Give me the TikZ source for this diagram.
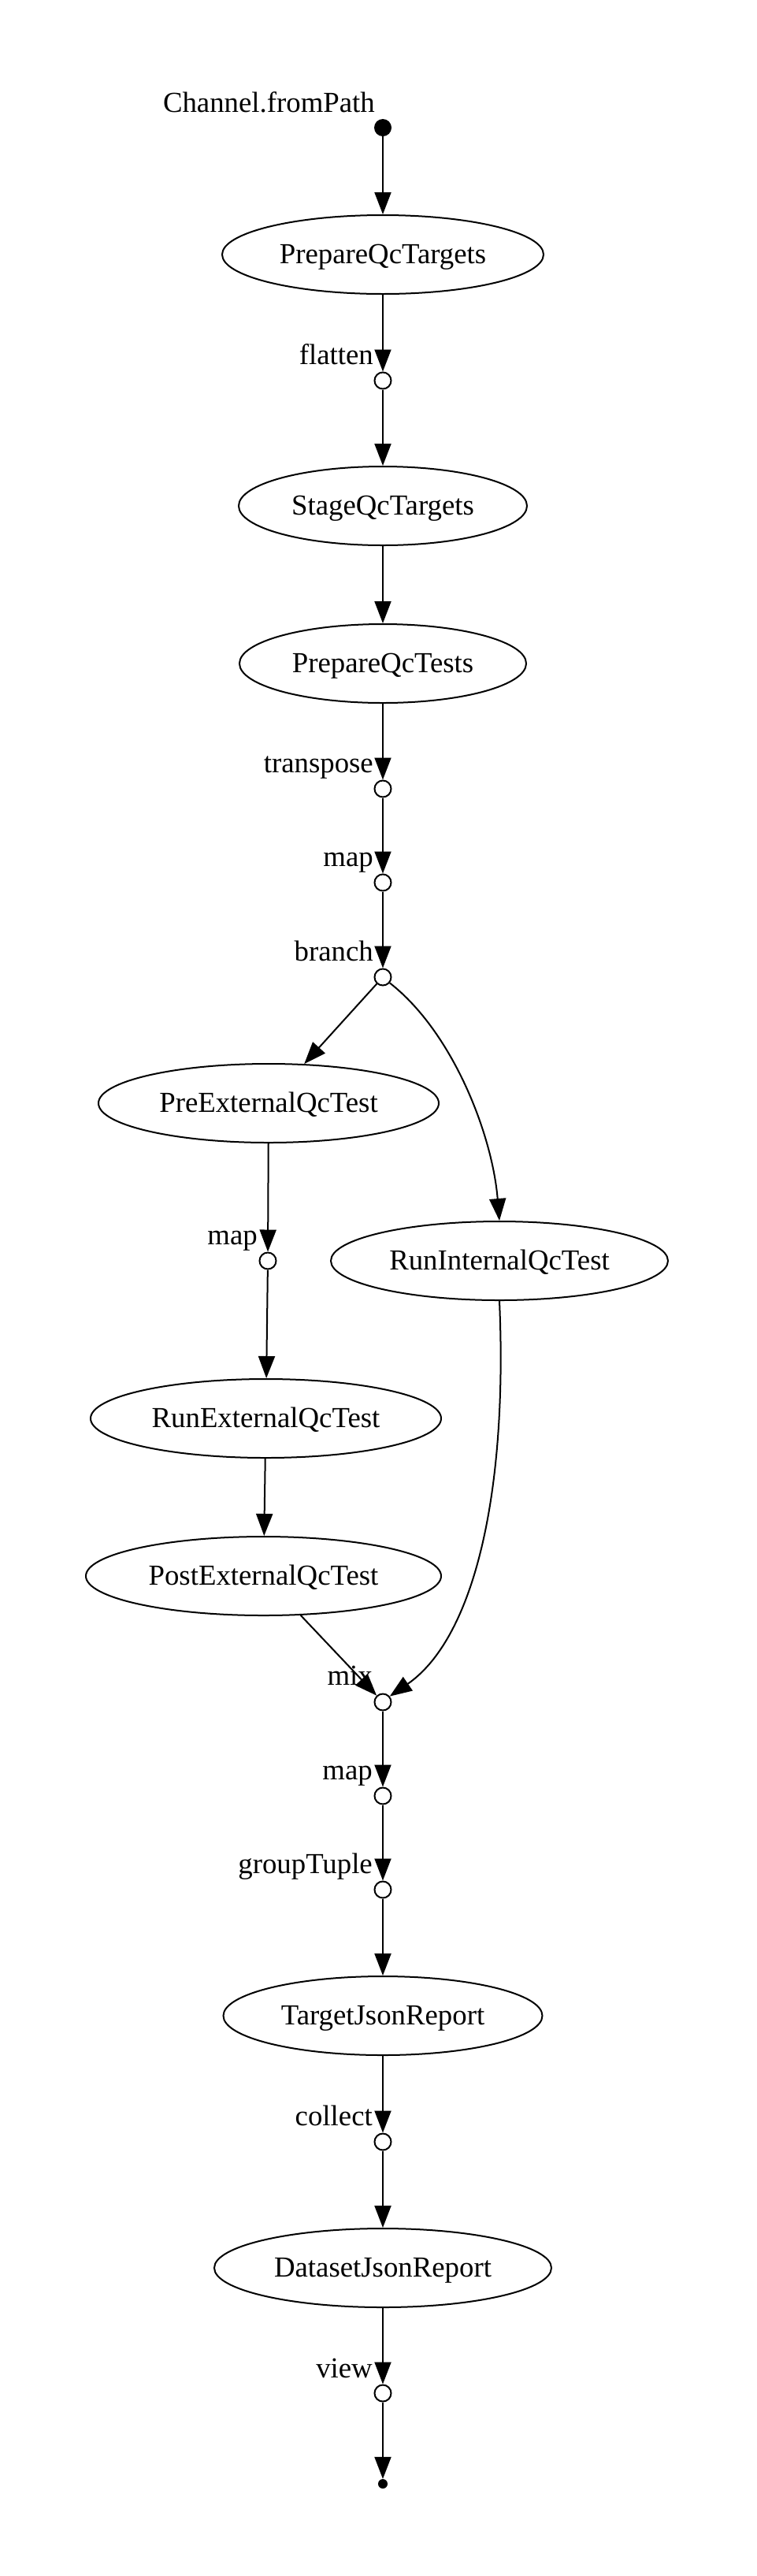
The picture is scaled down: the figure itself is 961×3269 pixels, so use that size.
\documentclass[tikz,border=0pt]{standalone}
\usepackage{fontspec}
\setmainfont{Liberation Serif}
\usetikzlibrary{shapes.geometric,arrows.meta,calc}
\tikzset{
  proc/.style={ellipse,draw,line width=2pt,minimum height=100pt,inner sep=0pt,
    text height=22pt,text depth=0pt,font=\fontsize{36.8pt}{44pt}\selectfont},
  opnode/.style={circle,draw,line width=2pt,fill=white,minimum size=21pt,inner sep=0pt},
  srcdot/.style={circle,fill=black,minimum size=22pt,inner sep=0pt},
  enddot/.style={circle,fill=black,minimum size=12pt,inner sep=0pt},
  lab/.style={anchor=base east,inner sep=0pt,font=\fontsize{36.8pt}{44pt}\selectfont},
  flow/.style={line width=2pt,-{Triangle[length=28pt,width=21pt]}}
}
\begin{document}
\begin{tikzpicture}[x=1pt,y=-1pt]
\fill[white] (0,0) rectangle (961,3269);
\useasboundingbox (0,0) rectangle (961,3269);
% nodes
\node[srcdot] (src) at (486,162) {};
\node[proc,minimum width=408pt] (pqt) at (486,323) {PrepareQcTargets};
\node[opnode] (flat) at (486,483) {};
\node[proc,minimum width=366pt] (sqt) at (486,642) {StageQcTargets};
\node[proc,minimum width=364pt] (pqtests) at (486,842) {PrepareQcTests};
\node[opnode] (trans) at (486,1001) {};
\node[opnode] (mapa) at (486,1120) {};
\node[opnode] (branch) at (486,1240) {};
\node[proc,minimum width=432pt] (pre) at (341,1400) {PreExternalQcTest};
\node[opnode] (mapb) at (340,1600) {};
\node[proc,minimum width=428pt] (rint) at (634,1600) {RunInternalQcTest};
\node[proc,minimum width=445pt] (rext) at (337.5,1800) {RunExternalQcTest};
\node[proc,minimum width=451pt] (post) at (334.5,2000) {PostExternalQcTest};
\node[opnode] (mix) at (486,2160) {};
\node[opnode] (mapc) at (486,2279) {};
\node[opnode] (grp) at (486,2398) {};
\node[proc,minimum width=405pt] (tjr) at (486,2558) {TargetJsonReport};
\node[opnode] (coll) at (486,2718) {};
\node[proc,minimum width=428pt] (djr) at (486,2878) {DatasetJsonReport};
\node[opnode] (view) at (486,3037) {};
\node[enddot] (fin) at (486,3152) {};
% labels
\node[lab] (lsrc) at ($(src)+(-10,-20)$) {Channel.fromPath};
\node[lab] (lflat) at ($(flat)+(-12,-21)$) {flatten};
\node[lab] (ltrans) at ($(trans)+(-12,-21)$) {transpose};
\node[lab] (lmapa) at ($(mapa)+(-12,-21)$) {map};
\node[lab] (lbranch) at ($(branch)+(-12,-21)$) {branch};
\node[lab] (lmapb) at ($(mapb)+(-13,-21)$) {map};
\node[lab] (lmix) at ($(mix)+(-13,-22)$) {mix};
\node[lab] (lmapc) at ($(mapc)+(-13,-21)$) {map};
\node[lab] (lgrp) at ($(grp)+(-13,-21)$) {groupTuple};
\node[lab] (lcoll) at ($(coll)+(-13,-21)$) {collect};
\node[lab] (lview) at ($(view)+(-13,-20)$) {view};
% edges
\draw[flow] (src) -- (pqt);
\draw[flow] (pqt) -- (flat);
\draw[flow] (flat) -- (sqt);
\draw[flow] (sqt) -- (pqtests);
\draw[flow] (pqtests) -- (trans);
\draw[flow] (trans) -- (mapa);
\draw[flow] (mapa) -- (branch);
\draw[flow] (branch) -- (pre);
\draw[flow] (branch.-40) .. controls (575,1310) and (625,1440) .. (rint.north);
\draw[flow] (pre) -- (mapb);
\draw[flow] (mapb) -- (rext);
\draw[flow] (rext) -- (post);
\draw[flow] (post) -- (mix);
\draw[flow] (rint.south) .. controls (645,1900) and (600,2080) .. (mix.40);
\draw[flow] (mix) -- (mapc);
\draw[flow] (mapc) -- (grp);
\draw[flow] (grp) -- (tjr);
\draw[flow] (tjr) -- (coll);
\draw[flow] (coll) -- (djr);
\draw[flow] (djr) -- (view);
\draw[flow] (view) -- (fin);
\end{tikzpicture}
\end{document}
